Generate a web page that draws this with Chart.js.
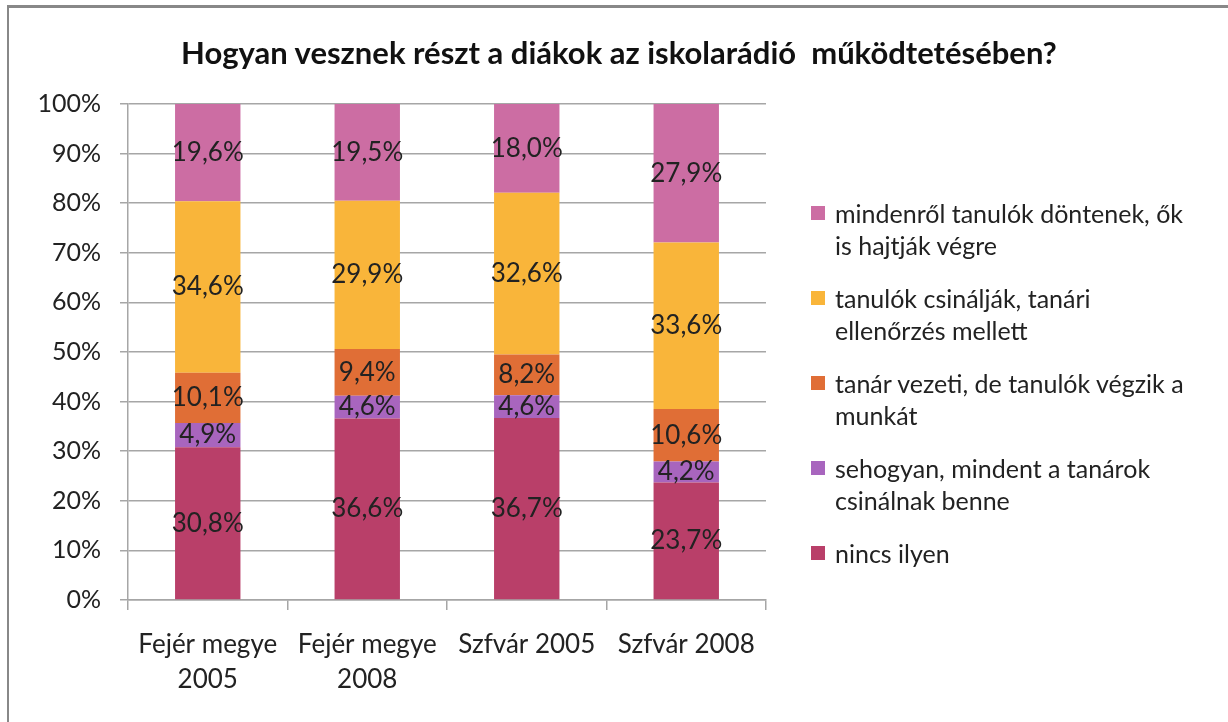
<!DOCTYPE html>
<html>
<head>
<meta charset="utf-8">
<script src="https://cdn.jsdelivr.net/npm/chart.js@4"></script>
<style>
  html, body { margin: 0; padding: 0; background: #fff; }
  #wrap { position: relative; width: 1228px; height: 722px; }
  #frame { position: absolute; left: 7px; top: 5px; right: 0; bottom: 0;
           border-top: 3px solid #888; border-left: 2px solid #888; }
  #title { position: absolute; left: 19px; width: 1200px; top: 32px; text-align: center;
           font-family: Lato, sans-serif; font-weight: bold; font-size: 31px; line-height: 40px; color: #111; }
  #legend { position: absolute; left: 811px; top: 197px; font-family: Lato, sans-serif;
            font-size: 25px; color: #222; line-height: 32px; }
  #legend .item { position: relative; padding-left: 24px; margin-bottom: 21px; white-space: pre; }
  #legend .sw { position: absolute; left: 0; top: 9px; width: 14px; height: 14px; }
  canvas { position: absolute; left: 0; top: 0; }
</style>
</head>
<body>
<div id="wrap">
  <div id="frame"></div>
  <canvas id="chart" width="1228" height="722"></canvas>
  <div id="title">Hogyan vesznek részt a diákok az iskolarádió&nbsp; működtetésében?</div>
  <div id="legend"></div>
</div>
<script>
// kategóriák
const categories = [["Fejér megye", "2005"], ["Fejér megye", "2008"], "Szfvár 2005", "Szfvár 2008"];

// sorozatok (alulról felfelé)
const nincsIlyen   = [30.8, 36.6, 36.7, 23.7];
const sehogyan     = [4.9, 4.6, 4.6, 4.2];
const tanarVezeti  = [10.1, 9.4, 8.2, 10.6];
const tanulokCsin  = [34.6, 29.9, 32.6, 33.6];
const mindenrol    = [19.6, 19.5, 18.0, 27.9];

const seriesNames = [
  "nincs ilyen",
  "sehogyan, mindent a tanárok\ncsinálnak benne",
  "tanár vezeti, de tanulók végzik a\nmunkát",
  "tanulók csinálják, tanári\nellenőrzés mellett",
  "mindenről tanulók döntenek, ők\nis hajtják végre"
];
const seriesColors = ["#B93F69", "#A865BE", "#E06E36", "#F9B53A", "#CC6DA3"];
const yTicks = [0, 10, 20, 30, 40, 50, 60, 70, 80, 90, 100];

const seriesData = [nincsIlyen, sehogyan, tanarVezeti, tanulokCsin, mindenrol];

const fmt = v => v.toFixed(1).replace(".", ",") + "%";

// adatcímkék a szegmensek közepén
const valueLabels = {
  id: "valueLabels",
  afterDatasetsDraw(chart) {
    const ctx = chart.ctx;
    ctx.save();
    ctx.font = "26px Lato, sans-serif";
    ctx.fillStyle = "#222";
    ctx.textAlign = "center";
    ctx.textBaseline = "middle";
    chart.data.datasets.forEach((ds, i) => {
      chart.getDatasetMeta(i).data.forEach((bar, j) => {
        const y = (bar.y + bar.base) / 2;
        ctx.fillText(fmt(ds.data[j]), bar.x, y);
      });
    });
    ctx.restore();
  }
};

new Chart(document.getElementById("chart"), {
  type: "bar",
  data: {
    labels: categories,
    datasets: seriesData.map((d, i) => ({
      label: seriesNames[i],
      data: d,
      backgroundColor: seriesColors[i],
      borderWidth: 0,
      barPercentage: 0.41,
      categoryPercentage: 1
    }))
  },
  options: {
    responsive: false,
    animation: false,
    layout: { padding: { left: 0, right: 462, top: 104, bottom: 0 } },
    plugins: {
      legend: { display: false },
      tooltip: { enabled: false },
      title: { display: false }
    },
    scales: {
      x: {
        stacked: true,
        offset: true,
        grid: { display: true, drawOnChartArea: false, offset: true, tickLength: 10, color: "#a6a6a6", lineWidth: 1.5 },
        border: { color: "#a6a6a6", width: 1.5 },
        ticks: { color: "#222", font: { family: "Lato, sans-serif", size: 26, lineHeight: 1.35 }, padding: 17, maxRotation: 0 },
        afterFit(s) { s.height = 122; }
      },
      y: {
        stacked: true,
        min: 0,
        max: 100,
        afterBuildTicks(s) { s.ticks = yTicks.map(v => ({ value: v })); },
        grid: { color: "#a6a6a6", lineWidth: 1.5, tickLength: 8 },
        border: { color: "#a6a6a6", width: 1.5 },
        ticks: { color: "#222", font: { family: "Lato, sans-serif", size: 25 }, padding: 19, callback: v => v + "%" },
        afterFit(s) { s.width = 128; }
      }
    }
  },
  plugins: [valueLabels]
});

// jelmagyarázat (fordított sorrend, mint az Excelben)
const legend = document.getElementById("legend");
for (let i = seriesNames.length - 1; i >= 0; i--) {
  const item = document.createElement("div");
  item.className = "item";
  const sw = document.createElement("span");
  sw.className = "sw";
  sw.style.background = seriesColors[i];
  item.appendChild(sw);
  item.appendChild(document.createTextNode(seriesNames[i]));
  legend.appendChild(item);
}
</script>
</body>
</html>
